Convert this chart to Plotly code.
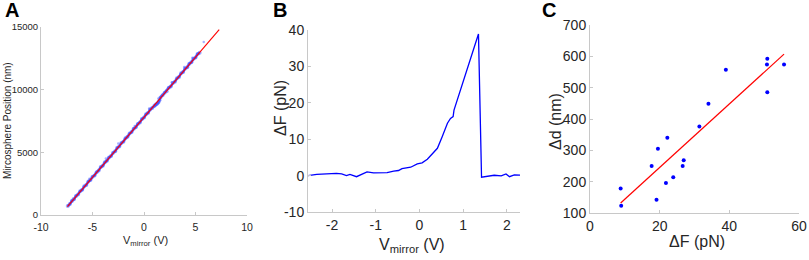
import plotly.graph_objects as go

# ---------- Panel A data ----------
a_x = [-7.4, -7.2, -7.0, -6.8, -6.6, -6.4, -6.2, -6.0, -5.8, -5.6, -5.4, -5.2, -5.0, -4.8, -4.6,
       -4.4, -4.2, -4.0, -3.8, -3.6, -3.4, -3.2, -3.0, -2.8, -2.6, -2.4, -2.2, -2.0, -1.8, -1.6,
       -1.4, -1.2, -1.0, -0.8, -0.6, -0.4, -0.2, 0.0, 0.2, 0.4, 0.6, 0.8, 1.0, 1.1, 1.2, 1.3,
       1.4, 1.5, 1.6, 1.8, 2.0, 2.2, 2.4, 2.6, 2.8, 3.0, 3.2, 3.4, 3.6, 3.8, 4.0, 4.2, 4.4,
       4.6, 4.8, 5.0, 5.2, 5.4]
a_y = [720, 870, 1120, 1250, 1520, 1640, 1900, 2010, 2290, 2400, 2680, 2790, 3050, 3160, 3420,
       3560, 3820, 3930, 4200, 4320, 4590, 4700, 4960, 5080, 5360, 5470, 5740, 5850, 6120, 6240,
       6500, 6620, 6890, 7000, 7270, 7390, 7650, 7770, 8040, 8150, 8420, 8530, 8700, 8780, 8840, 8900,
       9000, 9150, 9380, 9560, 9760, 9880, 10150, 10260, 10530, 10640, 10910, 11020, 11300, 11410, 11690, 11790, 12070,
       12180, 12460, 12560, 12850, 12940]
a_stray_x = [-6.9, -5.3, -3.7, -2.5, -0.9, 0.5, 1.4, 2.7, 3.9, 4.7, 5.8]
a_stray_y = [1300, 2900, 4500, 5700, 7100, 8500, 9300, 10600, 11800, 12550, 13800]
a_fit_x = [-7.44, 7.3]
a_fit_y = [664, 14790]
a_xticks = [-10, -5, 0, 5, 10]
a_xticktext = ["-10", "-5", "0", "5", "10"]
a_yticks = [0, 5000, 10000, 15000]
a_yticktext = ["0", "5000", "10000", "15000"]

# ---------- Panel B data ----------
b_x = [-2.56, -2.35, -1.9, -1.78, -1.67, -1.59, -1.44, -1.2, -1.05, -0.74, -0.59, -0.48, -0.4,
       -0.2, -0.05, 0.06, 0.18, 0.33, 0.41, 0.52, 0.64, 0.71, 0.77, 0.79, 0.94, 1.1, 1.25, 1.35,
       1.42, 1.56, 1.71, 1.87, 1.98, 2.06, 2.17, 2.33]
b_y = [0.0, 0.35, 0.6, 0.45, 0.0, 0.35, -0.3, 1.0, 0.75, 0.8, 1.2, 1.4, 1.9,
       2.3, 3.2, 3.5, 4.5, 6.3, 7.5, 10.7, 14.4, 15.7, 16.2, 18.0, 23.5, 30.0, 35.4, 38.9,
       -0.45, -0.1, 0.1, -0.1, 0.45, -0.3, 0.2, 0.1]
b_xticks = [-2, -1, 0, 1, 2]
b_xticktext = ["-2", "-1", "0", "1", "2"]
b_yticks = [-10, 0, 10, 20, 30, 40]
b_yticktext = ["-10", "0", "10", "20", "30", "40"]

# ---------- Panel C data ----------
c_x = [8.8, 8.95, 17.7, 19.1, 19.5, 21.8, 22.2, 23.9, 26.6, 26.9, 31.4, 34.0, 39.0, 50.9, 50.8, 50.9, 55.7]
c_y = [178, 123, 250, 142, 305, 196, 340, 214, 250, 268, 376, 449, 557, 592, 574, 485, 574]
c_fit_x = [8.8, 55.7]
c_fit_y = [132, 607]
c_xticks = [0, 20, 40, 60]
c_yticks = [100, 200, 300, 400, 500, 600, 700]

FONT = "Arial, Liberation Sans, sans-serif"
TXT = "#262626"
AX = "#c8c8c8"

fig = go.Figure()
fig.add_trace(go.Scatter(x=a_x, y=a_y, mode="lines+markers", xaxis="x", yaxis="y",
                         line=dict(color="rgba(30,40,255,0.75)", width=2.5),
                         marker=dict(color="rgba(60,80,255,0.5)", size=4)))
fig.add_trace(go.Scatter(x=a_stray_x, y=a_stray_y, mode="markers", xaxis="x", yaxis="y",
                         marker=dict(color="rgba(80,100,255,0.5)", size=2.5)))
fig.add_trace(go.Scatter(x=a_fit_x, y=a_fit_y, mode="lines", xaxis="x", yaxis="y",
                         line=dict(color="#ff0000", width=1.1)))
fig.add_trace(go.Scatter(x=b_x, y=b_y, mode="lines", xaxis="x2", yaxis="y2",
                         line=dict(color="#0000ff", width=1.3)))
fig.add_trace(go.Scatter(x=c_x, y=c_y, mode="markers", xaxis="x3", yaxis="y3",
                         marker=dict(color="#0000ff", size=4)))
fig.add_trace(go.Scatter(x=c_fit_x, y=c_fit_y, mode="lines", xaxis="x3", yaxis="y3",
                         line=dict(color="#ff0000", width=1.2)))

def ax(domain, rng, tickvals, ticktext, size, anchor, standoff=0):
    return dict(domain=domain, range=rng, tickvals=tickvals, ticktext=ticktext, anchor=anchor,
                automargin=False, fixedrange=True, ticklabelstandoff=standoff,
                showgrid=False, zeroline=False, showline=True, linecolor=AX, linewidth=1,
                ticks="inside", ticklen=3, tickcolor=AX,
                tickfont=dict(family=FONT, size=size, color=TXT))

W, H = 809, 260
def dx(a, b): return [a / W, b / W]
def dy(top, bot): return [1 - bot / H, 1 - top / H]

fig.update_layout(
    width=W, height=H, margin=dict(l=0, r=0, t=0, b=0, autoexpand=False),
    paper_bgcolor="white", plot_bgcolor="white", showlegend=False,
    xaxis=ax(dx(41, 247), [-10, 10], a_xticks, a_xticktext, 10.5, "y", standoff=2),
    yaxis=ax(dy(27, 215), [0, 15000], a_yticks, a_yticktext, 9.5, "x"),
    xaxis2=ax(dx(308, 520), [-2.55, 2.3], b_xticks, b_xticktext, 14, "y2"),
    yaxis2=ax(dy(30, 212), [-10, 40], b_yticks, b_yticktext, 14, "x2"),
    xaxis3=ax(dx(590, 799), [0, 60], c_xticks, [str(v) for v in c_xticks], 14, "y3"),
    yaxis3=ax(dy(25, 213), [100, 700], c_yticks, [str(v) for v in c_yticks], 14, "x3"),
)

def ann(text, xpx, ypx, size, angle=0, bold=False, xanchor="center", yanchor="middle", color=TXT):
    fig.add_annotation(text=f"<b>{text}</b>" if bold else text, x=xpx / W, y=1 - ypx / H,
                       xref="paper", yref="paper", xanchor=xanchor, yanchor=yanchor,
                       showarrow=False, textangle=angle,
                       font=dict(family=FONT, size=size, color=color))

# panel letters
ann("A", 3, 23, 20, bold=True, xanchor="left", yanchor="bottom", color="black")
ann("B", 271, 23, 20, bold=True, xanchor="left", yanchor="bottom", color="black")
ann("C", 540, 23, 20, bold=True, xanchor="left", yanchor="bottom", color="black")

# axis titles
ann("Mircosphere Position (nm)", 7, 121, 10, angle=-90)
ann("V<sub>mirror</sub> (V)", 145, 241, 11)
ann("ΔF (pN)", 280, 108, 16, angle=-90)
ann("V<sub>mirror</sub> (V)", 412, 245, 16)
ann("Δd (nm)", 555, 122, 16, angle=-90)
ann("ΔF (pN)", 697, 241, 16)

fig.write_html("out.html", config={"displayModeBar": False},
               post_script="document.body.style.margin='0';document.body.style.overflow='hidden';")
